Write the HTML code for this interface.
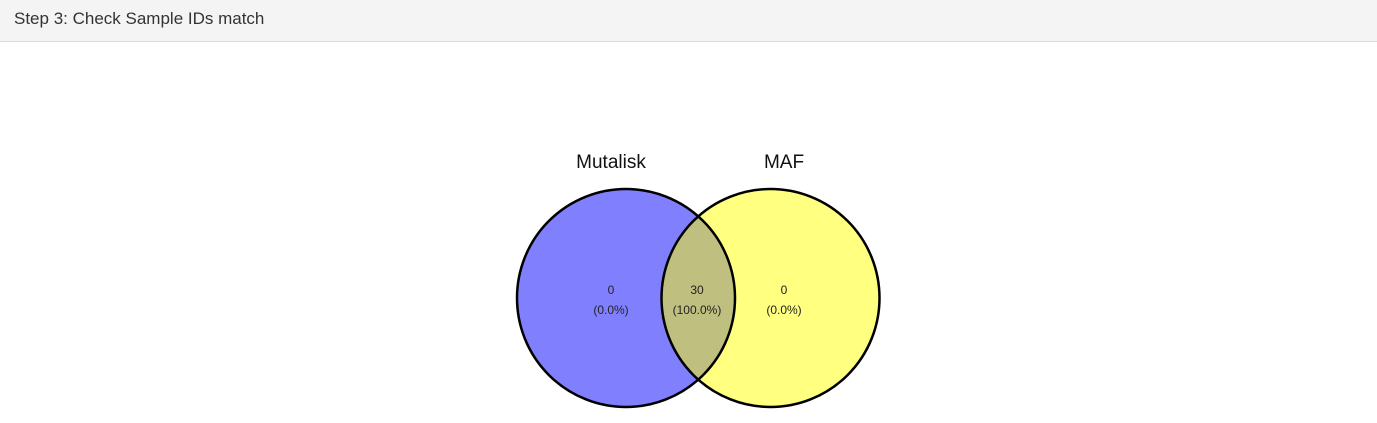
<!DOCTYPE html>
<html><head><meta charset="utf-8"><style>
body{margin:0;width:1377px;height:423px;background:#fff;overflow:hidden;font-family:"Liberation Sans",sans-serif}
.hdr{position:absolute;left:0;top:0;width:1377px;height:42px;background:#f4f4f4;border-bottom:1px solid #ddd;box-sizing:border-box}
.hdr span{position:absolute;left:14px;top:9px;font-size:17px;color:#333}
</style></head><body>
<div class="hdr"><span>Step 3: Check Sample IDs match</span></div>
<svg id="v" width="1377" height="423" style="position:absolute;left:0;top:0"></svg>
<script>
const setNames=["Mutalisk","MAF"];
const counts=[0,30,0];
const pcts=["0.0%","100.0%","0.0%"];
const ns="http://www.w3.org/2000/svg",svg=document.getElementById('v');
const cy=298,r=109,c1=626,c2=770.5;
function mk(t,a){const e=document.createElementNS(ns,t);for(const k in a)e.setAttribute(k,a[k]);svg.appendChild(e);return e;}
const defs=mk('defs',{});
const cp=document.createElementNS(ns,'clipPath');cp.setAttribute('id','cl');
const cc=document.createElementNS(ns,'circle');cc.setAttribute('cx',c1);cc.setAttribute('cy',cy);cc.setAttribute('r',r);cp.appendChild(cc);defs.appendChild(cp);
let e=mk('circle',{cx:c1,cy:cy,r:r,fill:'#8080ff'});


e=mk('circle',{cx:c2,cy:cy,r:r,fill:'#ffff80'});


e=mk('circle',{cx:c2,cy:cy,r:r,fill:'#bfbf80','clip-path':'url(#cl)'});


mk('circle',{cx:c1,cy:cy,r:r,fill:'none',stroke:'#000','stroke-width':2.5});
mk('circle',{cx:c2,cy:cy,r:r,fill:'none',stroke:'#000','stroke-width':2.5});
const lx=[611,697,784];
for(let i=0;i<3;i++){
 e=mk('text',{x:lx[i],y:294,'text-anchor':'middle','font-size':12,fill:'#222'});e.textContent=counts[i];
 
 
 e=mk('text',{x:lx[i],y:314,'text-anchor':'middle','font-size':12,fill:'#222'});e.textContent='('+pcts[i]+')';
 
 
}
const tx=[611,784];
for(let i=0;i<2;i++){
 e=mk('text',{x:tx[i],y:168,'text-anchor':'middle','font-size':19,fill:'#111'});e.textContent=setNames[i];
 
 
}
</script>
</body></html>
